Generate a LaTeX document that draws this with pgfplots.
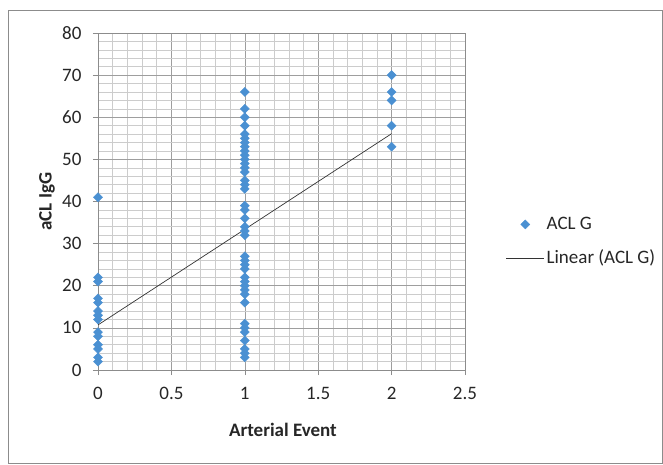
\documentclass[border=0pt]{standalone}
\usepackage{pgfplots}
\pgfplotsset{compat=1.18}
\usepackage{fontspec}
\setmainfont{Carlito}
\definecolor{mk}{HTML}{4A90D2}
\pgfplotsset{
  scatleg/.style={legend image code/.code={\draw[##1] plot coordinates {(19pt,0pt)};}},
  lineleg/.style={legend image code/.code={\draw[##1] (0pt,0pt) -- (38pt,0pt);}},
}
\begin{document}
\fontsize{19}{22}\selectfont
\begin{tikzpicture}
\begin{axis}[
  at={(0pt,0pt)}, anchor=south west, scale only axis, width=367pt, height=337pt,
  xmin=0, xmax=2.5, ymin=0, ymax=80,
  xtick={0,0.5,1,1.5,2,2.5}, ytick={0,10,20,30,40,50,60,70,80},
  minor x tick num=4, minor y tick num=4,
  grid=both,
  major grid style={color=black!38, line width=0.6pt},
  minor grid style={color=black!20, line width=0.6pt},
  axis line style={black!45, line width=0.6pt},
  tick style={black!45, line width=0.6pt}, major tick length=5pt, minor tick length=0pt,
  tick align=outside, xtick pos=left, ytick pos=left,
  /pgf/number format/assume math mode=true,
  tick label style={font=\fontsize{19}{22}\selectfont, text=black!85},
  yticklabel style={xshift=-5pt},
  xticklabel style={yshift=-6pt},
  xlabel={\bfseries Arterial Event},
  ylabel={\bfseries aCL IgG},
  label style={font=\fontsize{19}{22}\selectfont, text=black!85},
  xlabel style={at={(axis description cs:0.504,-0.178)}, anchor=center},
  ylabel style={at={(axis description cs:-0.139,0.5)}, anchor=center, rotate=0},
  legend style={at={(axis description cs:1.111,0.461)}, anchor=north west, draw=none, fill=none,
    row sep=14pt, font=\fontsize{19}{22}\selectfont, text=black!85, inner sep=0pt},
  legend cell align=left,
]
\addplot[only marks, mark=square*, mark size=3.2pt, mark options={rotate=45, draw=mk, fill=mk}, scatleg]
  coordinates {
  (0,41) (0,22) (0,21) (0,17) (0,16) (0,14) (0,13) (0,12) (0,9) (0,8) (0,6) (0,5) (0,3) (0,2)
  (1,66) (1,62) (1,60) (1,58) (1,56) (1,55) (1,54) (1,53) (1,52) (1,51) (1,50) (1,49) (1,48) (1,47)
  (1,45) (1,44) (1,43) (1,39) (1,38) (1,36) (1,34) (1,33) (1,32) (1,27) (1,26) (1,25) (1,24)
  (1,22) (1,21) (1,20) (1,19) (1,18) (1,16) (1,11) (1,10) (1,9) (1,7) (1,5) (1,4) (1,3)
  (2,70) (2,66) (2,64) (2,58) (2,53)
  };
\addlegendentry{ACL G}
\addplot[black!80, line width=0.7pt, mark=none, lineleg]
  coordinates {(0,10.7) (2,56.1)};
\addlegendentry{Linear (ACL G)}
\end{axis}
\draw[black!45, line width=0.8pt] (-90pt,-93pt) rectangle (564pt,360pt);
\pgfresetboundingbox
\useasboundingbox (-98pt,-94pt) rectangle (565pt,370pt);
\end{tikzpicture}
\end{document}
